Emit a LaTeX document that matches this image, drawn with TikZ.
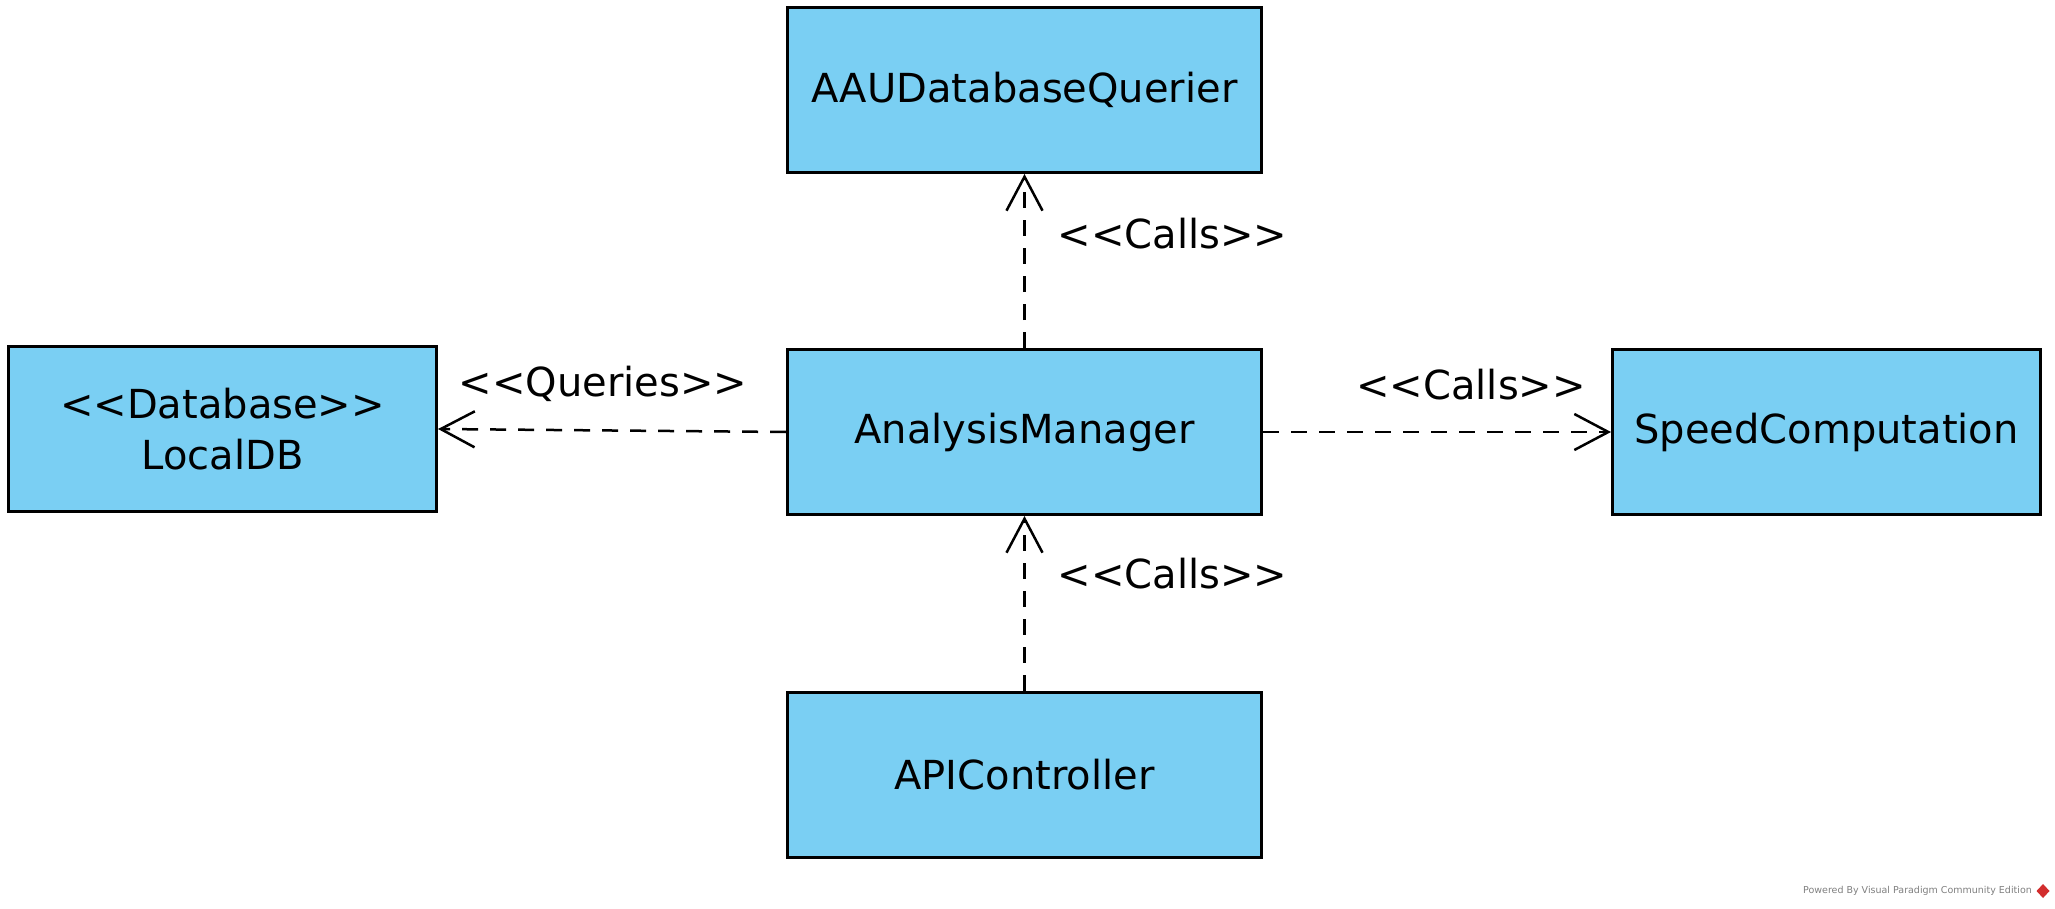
\documentclass[tikz,border=0pt]{standalone}
\usepackage{fontspec}
\newfontfamily\umlfont{DejaVu Sans}
\usetikzlibrary{arrows.meta}
\definecolor{boxblue}{RGB}{122,207,243}
\definecolor{vpred}{RGB}{210,45,45}
\tikzset{
  cls/.style={draw=black, fill=boxblue, line width=3pt, minimum width=474pt, minimum height=165pt,
    inner sep=0pt, font=\umlfont\fontsize{40}{51}\selectfont, align=center},
  dep/.style={line width=2.5pt, dash pattern=on 16pt off 12pt,
    -{Straight Barb[length=34pt,width=36pt]}},
  lbl/.style={font=\umlfont\fontsize{40}{48}\selectfont, inner sep=0pt}
}
\begin{document}
\begin{tikzpicture}[x=1pt,y=-1pt]
\fill[white] (0,0) rectangle (2055,909);
\useasboundingbox (0,0) rectangle (2055,909);

\node[cls] (aau) at (1024.5,90) {AAUDatabaseQuerier};
\node[cls, minimum width=428pt] (local) at (222.5,429) {<{}<Database>{}>\\LocalDB};
\node[cls] (am) at (1024.5,432) {AnalysisManager};
\node[cls, minimum width=428pt] (speed) at (1826.5,432) {SpeedComputation};
\node[cls] (api) at (1024.5,774.5) {APIController};

\draw[dep] (am.north) -- (aau.south)
  node[lbl, pos=0.66, anchor=west, xshift=32pt] (l1) {<{}<Calls>{}>};
\draw[dep] (am.west) -- (local.east)
  node[lbl, pos=0.526, yshift=47pt] (l2) {<{}<Queries>{}>};
\draw[dep] (am.east) -- (speed.west)
  node[lbl, pos=0.598, yshift=47pt] (l3) {<{}<Calls>{}>};
\draw[dep] (api.north) -- (am.south)
  node[lbl, pos=0.67, anchor=west, xshift=32pt] (l4) {<{}<Calls>{}>};

\node[font=\umlfont\fontsize{9.5}{11}\selectfont, text=gray, anchor=east, inner sep=0pt] (wm)
  at (2032,891) {Powered By Visual Paradigm Community Edition};
\fill[vpred] (2043,884) -- (2049.5,891) -- (2043,898) -- (2036.5,891) -- cycle;
\end{tikzpicture}
\end{document}
